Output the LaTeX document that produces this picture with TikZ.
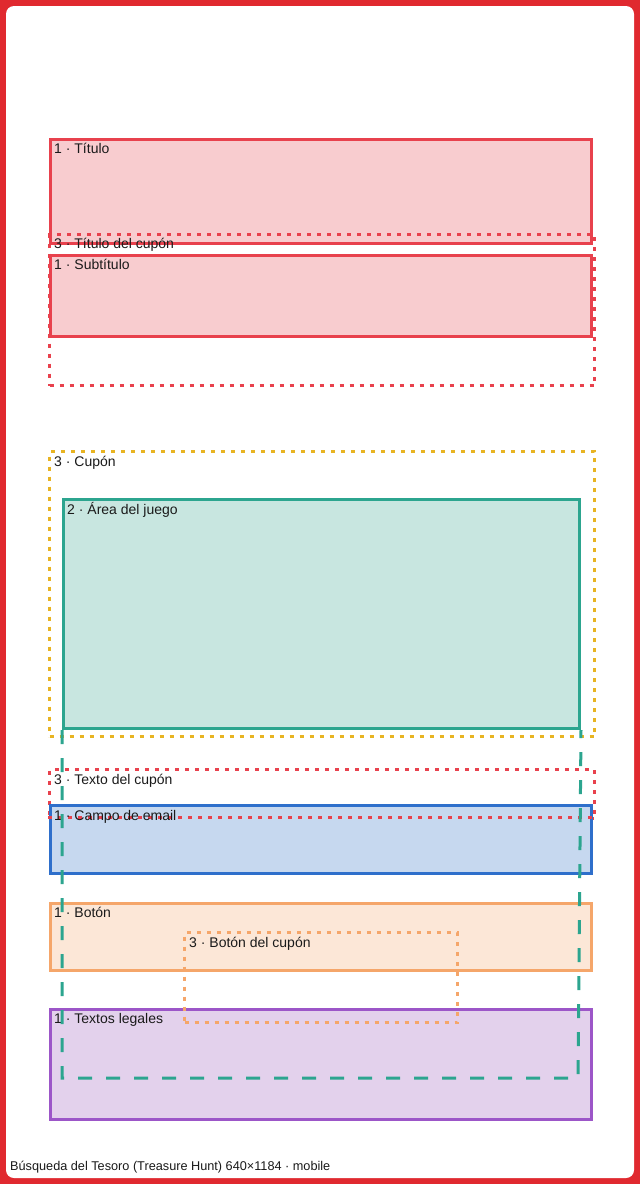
\documentclass[tikz,border=0pt]{standalone}
\usepackage{fontspec}
\setmainfont{Liberation Sans}
\definecolor{framered}{HTML}{E0292F}
\definecolor{redline}{HTML}{E8414D}
\definecolor{redfill}{HTML}{F8CCCF}
\definecolor{yelline}{HTML}{E8B422}
\definecolor{tealline}{HTML}{2CA58F}
\definecolor{tealfill}{HTML}{C8E6E0}
\definecolor{blueline}{HTML}{2E6FCB}
\definecolor{bluefill}{HTML}{C6D8EF}
\definecolor{orline}{HTML}{F5A66A}
\definecolor{orfill}{HTML}{FCE7D7}
\definecolor{purline}{HTML}{9C56C8}
\definecolor{purfill}{HTML}{E3D1EC}
\definecolor{txt}{HTML}{1A1A1A}
\begin{document}
\begin{tikzpicture}[x=1pt,y=-1pt,
  solidbox/.style={draw, line width=3pt, inner sep=0pt, anchor=north west},
  dotbox/.style={draw, line width=3pt, inner sep=0pt, anchor=north west, dash pattern=on 4pt off 6pt},
  lbl/.style={anchor=base west, inner sep=0pt, text=txt, font=\fontsize{14}{16}\selectfont}]
\useasboundingbox (0,0) rectangle (640,1184);
\fill[framered] (0,0) rectangle (640,1184);
\fill[white, rounded corners=8pt] (6,6) rectangle (634,1178);
% Titulo
\node[solidbox, color=redline, fill=redfill, minimum width=541pt, minimum height=104pt] (titulo) at (49,138) {};
\node[lbl] (ltitulo) at (54,153) {1 · Título};
% Titulo del cupon
\node[dotbox, color=redline, minimum width=545pt, minimum height=151pt] (titcupon) at (48,233) {};
\node[lbl] (ltitcupon) at (54,248) {3 · Título del cupón};
% Subtitulo
\node[solidbox, color=redline, fill=redfill, minimum width=541pt, minimum height=81pt] (subtitulo) at (49,254) {};
\node[lbl] (lsubtitulo) at (54,269) {1 · Subtítulo};
% Cupon
\node[dotbox, color=yelline, minimum width=545pt, minimum height=285pt] (cupon) at (48,450) {};
\node[lbl] (lcupon) at (54,466) {3 · Cupón};
% Area del juego
\node[solidbox, color=tealline, fill=tealfill, minimum width=516pt, minimum height=229pt] (area) at (62,498) {};
\node[lbl] (larea) at (67,514) {2 · Área del juego};
% Texto del cupon
\node[dotbox, color=redline, minimum width=545pt, minimum height=49pt] (textocupon) at (48,768) {};
\node[lbl] (ltextocupon) at (54,784) {3 · Texto del cupón};
% Campo de email
\node[solidbox, color=blueline, fill=bluefill, minimum width=541pt, minimum height=68pt] (email) at (49,804) {};
\draw[redline, line width=3pt, dash pattern=on 4pt off 6pt] (48,817) -- (593,817);
\node[lbl] (lemail) at (54,820) {1 · Campo de email};
% Boton
\node[solidbox, color=orline, fill=orfill, minimum width=541pt, minimum height=67pt] (boton) at (49,902) {};
\node[lbl] (lboton) at (54,917) {1 · Botón};
% Textos legales
\node[solidbox, color=purline, fill=purfill, minimum width=541pt, minimum height=110pt] (legales) at (49,1008) {};
\node[lbl] (llegales) at (54,1023) {1 · Textos legales};
% Boton del cupon
\node[dotbox, color=orline, minimum width=273pt, minimum height=90pt] (botoncupon) at (183,931) {};
\node[lbl] (lbotoncupon) at (189,947) {3 · Botón del cupón};
% teal dashed extension
\coordinate (tealbl) at (62,1078);
\coordinate (tealbr) at (578,1078);
\draw[tealline, line width=3pt, dash pattern=on 14pt off 14pt] (area.south west) -- (tealbl) -- (tealbr) -- (area.south east);
% footer
\node[anchor=base west, inner sep=0pt, text=txt, font=\fontsize{12.7}{15}\selectfont] (footer) at (10,1170) {Búsqueda del Tesoro (Treasure Hunt) 640×1184 · mobile};
\end{tikzpicture}
\end{document}
